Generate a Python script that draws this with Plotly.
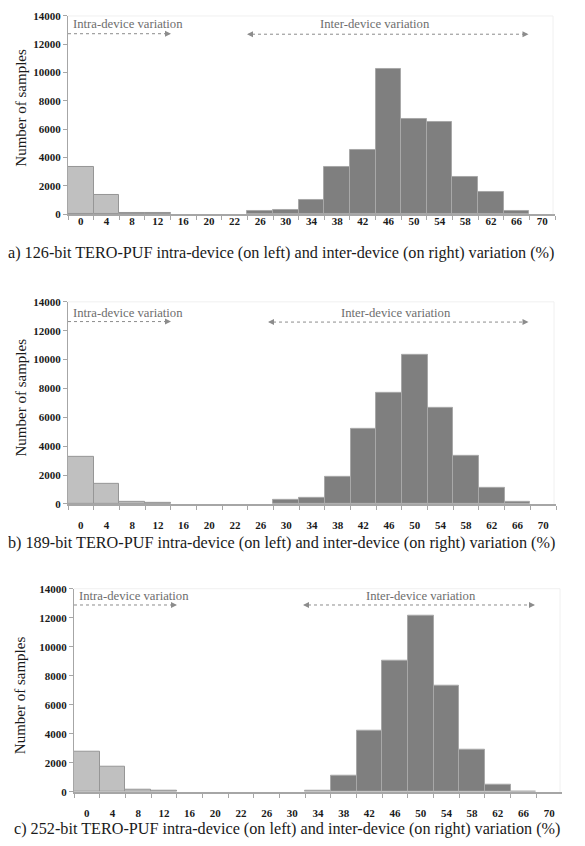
import plotly.graph_objects as go

W, H = 585, 846
OFF = 8  # default page margin of the html body

categories = ["0", "4", "8", "12", "16", "20", "22", "26", "30", "34",
              "38", "42", "46", "50", "54", "58", "62", "66", "70"]
intra_cats = ["0", "4", "8", "12", "16", "20", "22"]
inter_cats = ["26", "30", "34", "38", "42", "46", "50", "54", "58", "62", "66", "70"]

# panel a) 126-bit
a_intra = [3300, 1360, 80, 60, 0, 0, 0]
a_inter = [230, 300, 980, 3360, 4530, 10290, 6750, 6510, 2640, 1590, 240, 0]
# panel b) 189-bit
b_intra = [3230, 1360, 140, 90, 0, 0, 0]
b_inter = [0, 270, 390, 1890, 5230, 7700, 10340, 6630, 3340, 1090, 120, 0]
# panel c) 252-bit
c_intra = [2790, 1750, 160, 80, 0, 0, 0]
c_inter = [0, 0, 80, 1140, 4190, 9070, 12170, 7340, 2880, 500, 20, 0]

y_ticks = [0, 2000, 4000, 6000, 8000, 10000, 12000, 14000]
y_tick_labels = ["0", "2000", "4000", "6000", "8000", "10000", "12000", "14000"]

captions = [
    "a) 126-bit TERO-PUF intra-device (on left) and inter-device (on right) variation (%)",
    "b) 189-bit TERO-PUF intra-device (on left) and inter-device (on right) variation (%)",
    "c) 252-bit TERO-PUF intra-device (on left) and inter-device (on right) variation (%)",
]
y_title = "Number of samples"
intra_label = "Intra-device variation"
inter_label = "Inter-device variation"

SERIF = "Liberation Serif"
AXIS_COL = "#a6a6a6"
INTRA_FILL = "#c0c0c0"
INTRA_LINE = "#969696"
INTER_FILL = "#7f7f7f"
INTER_LINE = "#a8a8a8"
ARROW_COL = "#8c8c8c"

# layout geometry in (screen) pixels
panels = [
    dict(box=(68, 555, 10, 211), lab_std=-4, ycap=250.5, xcap=280.5, ytitle=(21, 103),
         intra=dict(x0=68, x1=171, y=28, tx=128, ty=18.5, left=False),
         inter=dict(x0=247, x1=528.5, y=28.5, tx=375, ty=18.5, left=True)),
    dict(box=(68, 556, 300, 505), lab_std=10, ycap=544.5, xcap=281, ytitle=(21, 397),
         intra=dict(x0=68, x1=171, y=320, tx=128, ty=311, left=False),
         inter=dict(x0=268, x1=528.5, y=320.5, tx=395.5, ty=311, left=True)),
    dict(box=(74, 562, 591, 797), lab_std=10, ycap=835, xcap=287, ytitle=(20, 699),
         intra=dict(x0=74, x1=177, y=607.5, tx=134, ty=598, left=False),
         inter=dict(x0=303, x1=535, y=607.5, tx=421, ty=598, left=True)),
]

data_sets = [(a_intra, a_inter), (b_intra, b_inter), (c_intra, c_inter)]


def px(x):
    return (x - OFF) / W


def py(y):
    return 1 - (y - OFF) / H


def nonzero(cats, vals):
    pairs = [(c, v) for c, v in zip(cats, vals) if v > 0]
    return [c for c, _ in pairs], [v for _, v in pairs]


fig = go.Figure()
layout = dict(
    width=W, height=H,
    margin=dict(l=0, r=0, t=0, b=0),
    paper_bgcolor="white", plot_bgcolor="white",
    showlegend=False, barmode="overlay", bargap=0,
    font=dict(family=SERIF, color="#1a1a1a"),
    shapes=[], annotations=[],
)

for i, (p, (intra, inter)) in enumerate(zip(panels, data_sets)):
    n = "" if i == 0 else str(i + 1)
    xa, ya = "x" + n, "y" + n
    ic, iv = nonzero(intra_cats, intra)
    ec, ev = nonzero(inter_cats, inter)
    fig.add_trace(go.Bar(x=ic, y=iv, xaxis=xa, yaxis=ya, width=1,
                         marker=dict(color=INTRA_FILL, line=dict(color=INTRA_LINE, width=1))))
    fig.add_trace(go.Bar(x=ec, y=ev, xaxis=xa, yaxis=ya, width=1,
                         marker=dict(color=INTER_FILL, line=dict(color=INTER_LINE, width=1))))
    x0, x1, yt, yb = p["box"]
    layout["xaxis" + n] = dict(
        domain=[px(x0), px(x1)], anchor=ya, type="category",
        categoryorder="array", categoryarray=categories,
        range=[-0.5, len(categories) - 0.5],
        tickson="boundaries", ticks="outside", ticklen=4, tickcolor=AXIS_COL,
        showline=True, linecolor=AXIS_COL, linewidth=1.5, showgrid=False,
        tickfont=dict(family=SERIF, size=11, weight="bold", color="#1a1a1a"),
        ticklabelstandoff=p["lab_std"], fixedrange=True,
    )
    layout["yaxis" + n] = dict(
        domain=[py(yb), py(yt)], anchor=xa, range=[0, 14000],
        tickvals=y_ticks, ticktext=y_tick_labels,
        ticks="outside", ticklen=4, tickcolor=AXIS_COL,
        showline=True, linecolor=AXIS_COL, linewidth=1, showgrid=False, zeroline=False,
        tickfont=dict(family=SERIF, size=11, weight="bold", color="#1a1a1a"),
        fixedrange=True,
    )
    # faint plot-area border (top and right)
    layout["shapes"].append(dict(type="line", xref="paper", yref="paper",
                                 x0=px(x0), x1=px(x1 - 2), y0=py(yt), y1=py(yt),
                                 line=dict(color="#f0f0f0", width=1)))
    layout["shapes"].append(dict(type="line", xref="paper", yref="paper",
                                 x0=px(x1 - 2), x1=px(x1 - 2), y0=py(yt), y1=py(yb),
                                 line=dict(color="#f0f0f0", width=1)))
    # caption
    layout["annotations"].append(dict(
        text=captions[i], xref="paper", yref="paper", x=px(p["xcap"]), y=py(p["ycap"]),
        xanchor="center", yanchor="middle", showarrow=False,
        font=dict(family=SERIF, size=16.2, color="#1a1a1a")))
    # y title
    tx, ty = p["ytitle"]
    layout["annotations"].append(dict(
        text=y_title, xref="paper", yref="paper", x=px(tx), y=py(ty), textangle=-90,
        xanchor="center", yanchor="middle", showarrow=False,
        font=dict(family=SERIF, size=15, color="#1a1a1a")))
    # variation arrows
    for key, label in (("intra", intra_label), ("inter", inter_label)):
        a = p[key]
        layout["shapes"].append(dict(
            type="line", xref="paper", yref="paper",
            x0=px(a["x0"] + (5 if a["left"] else 0)), x1=px(a["x1"] - 5),
            y0=py(a["y"]), y1=py(a["y"]),
            line=dict(color=ARROW_COL, width=1, dash="dot")))
        layout["annotations"].append(dict(
            xref="paper", yref="paper", x=px(a["x1"]), y=py(a["y"]), ax=-7, ay=0,
            text="", showarrow=True, arrowhead=2, arrowsize=1.2, arrowwidth=1,
            arrowcolor=ARROW_COL))
        if a["left"]:
            layout["annotations"].append(dict(
                xref="paper", yref="paper", x=px(a["x0"]), y=py(a["y"]), ax=7, ay=0,
                text="", showarrow=True, arrowhead=2, arrowsize=1.2, arrowwidth=1,
                arrowcolor=ARROW_COL))
        layout["annotations"].append(dict(
            text=label, xref="paper", yref="paper", x=px(a["tx"]), y=py(a["ty"]),
            xanchor="center", yanchor="middle", showarrow=False,
            font=dict(family=SERIF, size=12.7, color="#6e6e6e")))

fig.update_layout(**layout)
fig.write_html("out.html")
